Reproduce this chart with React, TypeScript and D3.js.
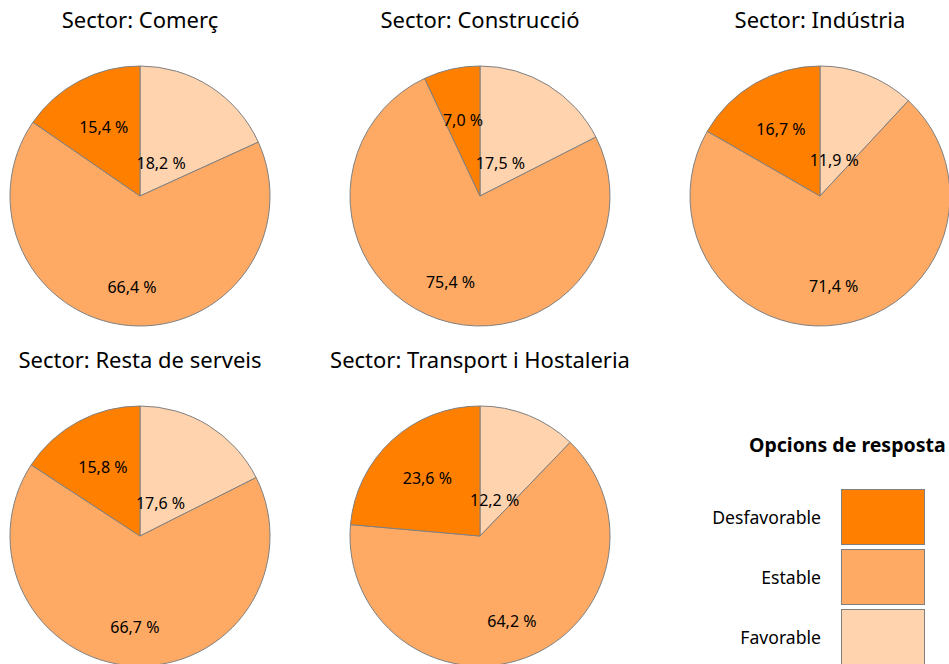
import React from "react";
import * as d3 from "d3";

const sectors = ["Comerç", "Construcció", "Indústria", "Resta de serveis", "Transport i Hostaleria"];
const categories = ["Favorable", "Estable", "Desfavorable"];
const favorable = [18.2, 17.5, 11.9, 17.6, 12.2];
const estable = [66.4, 75.4, 71.4, 66.7, 64.2];
const desfavorable = [15.4, 7.0, 16.7, 15.8, 23.6];
const legendOrder = ["Desfavorable", "Estable", "Favorable"];

const colors: Record<string, string> = {
  Favorable: "#fed3ae",
  Estable: "#feaa64",
  Desfavorable: "#ff7f00",
};
const labelRadiusFrac: Record<string, number> = {
  Favorable: 0.3,
  Estable: 0.7,
  Desfavorable: 0.6,
};

const W = 949;
const H = 664;
const R = 130;
const FONT = "'Noto Sans', 'Open Sans', sans-serif";

const fmt = (v: number) => v.toFixed(1).replace(".", ",") + " %";

export default function App() {
  const colX = d3.scalePoint<number>().domain([0, 1, 2]).range([140, 820]);
  const rowY = d3.scalePoint<number>().domain([0, 1]).range([196, 536]);
  const pie = d3
    .pie<{ cat: string; value: number }>()
    .sort(null)
    .value((d) => d.value);
  const arc = d3.arc<d3.PieArcDatum<{ cat: string; value: number }>>().innerRadius(0).outerRadius(R);

  const legendY = d3.scaleBand<string>().domain(legendOrder).range([489, 664]).paddingInner(1 / 12).paddingOuter(0);

  return (
    <svg width={W} height={H} style={{ position: "absolute", left: 0, top: 0 }} fontFamily={FONT}>
      <rect width={W} height={H} fill="#ffffff" />
      {sectors.map((s, i) => {
        const cx = colX(i % 3)!;
        const cy = rowY(Math.floor(i / 3))!;
        const vals = [favorable[i], estable[i], desfavorable[i]];
        const data = categories.map((c, k) => ({ cat: c, value: vals[k] }));
        const arcs = pie(data);
        return (
          <g key={s}>
            <text x={cx} y={cy - 168} textAnchor="middle" fontSize={22} fill="#000">
              {"Sector: " + s}
            </text>
            <g transform={`translate(${cx},${cy})`}>
              {arcs.map((a) => (
                <path key={a.data.cat} d={arc(a)!} fill={colors[a.data.cat]} stroke="#808080" strokeWidth={1} />
              ))}
              {arcs.map((a) => {
                const mid = (a.startAngle + a.endAngle) / 2;
                const r = R * labelRadiusFrac[a.data.cat];
                return (
                  <text
                    key={a.data.cat + "l"}
                    x={Math.sin(mid) * r}
                    y={-Math.cos(mid) * r}
                    textAnchor="middle"
                    dominantBaseline="central"
                    fontSize={16}
                    fill="#000"
                  >
                    {fmt(a.data.value)}
                  </text>
                );
              })}
            </g>
          </g>
        );
      })}
      <text x={749} y={452} fontSize={19.5} fontWeight="bold" fill="#000">
        Opcions de resposta
      </text>
      {legendOrder.map((c) => {
        const y = legendY(c)!;
        const h = legendY.bandwidth();
        return (
          <g key={c}>
            <rect x={841.5} y={y + 0.5} width={83} height={h} fill={colors[c]} stroke="#808080" strokeWidth={1} />
            <text x={821} y={y + h / 2} textAnchor="end" dominantBaseline="central" fontSize={17.6} fill="#000">
              {c}
            </text>
          </g>
        );
      })}
    </svg>
  );
}
